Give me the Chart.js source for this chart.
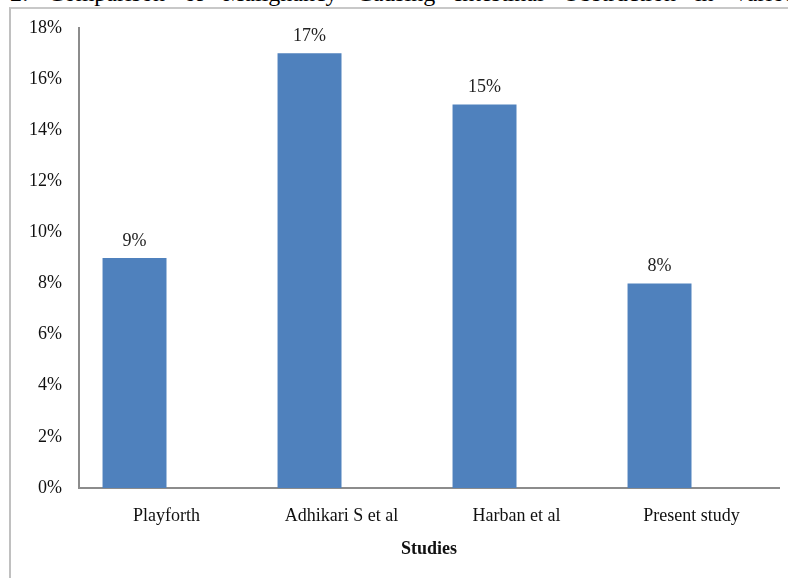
<!DOCTYPE html>
<html>
<head>
<meta charset="utf-8">
<script src="https://cdn.jsdelivr.net/npm/chart.js@4/dist/chart.umd.min.js"></script>
<style>
  html, body { margin: 0; padding: 0; background: #fff; }
  #wrap { position: relative; width: 788px; height: 578px; overflow: hidden; }
  #frame { position: absolute; left: 9px; top: 7px; width: 800px; height: 600px;
           border-left: 2px solid #c0c0c0; border-top: 2px solid #c8c8c8; }
  #cap { position: absolute; left: 10px; top: -19px; white-space: nowrap; word-spacing: 13px;
         font-family: "Liberation Serif", serif; font-size: 24px; line-height: 24px; color: #000; }
  canvas { position: absolute; left: 0; top: 0; }
</style>
</head>
<body>
<div id="wrap">
  <div id="cap">2: Comparison of Malignancy Causing Intestinal Obstruction in Various Studies</div>
  <div id="frame"></div>
  <canvas id="c" width="788" height="578"></canvas>
</div>
<script>
const categories = ["Playforth", "Adhikari S et al", "Harban et al", "Present study"];
const values = [9, 17, 15, 8];
const yTicks = [0, 2, 4, 6, 8, 10, 12, 14, 16, 18];
const xTitle = "Studies";

const serif = "'Liberation Serif', 'Times New Roman', serif";

const labelPlugin = {
  id: 'valueLabels',
  afterDatasetsDraw(chart) {
    const ctx = chart.ctx;
    const meta = chart.getDatasetMeta(0);
    ctx.save();
    ctx.font = "18px " + serif;
    ctx.fillStyle = "#222";
    ctx.textAlign = "center";
    ctx.textBaseline = "middle";
    meta.data.forEach((bar, i) => {
      ctx.fillText(values[i] + "%", bar.x, bar.y - 17);
    });
    ctx.restore();
  }
};

new Chart(document.getElementById('c'), {
  type: 'bar',
  data: {
    labels: categories,
    datasets: [
      { data: values, backgroundColor: '#4F81BD', borderWidth: 0 },
      { data: values.map(() => null), backgroundColor: 'rgba(0,0,0,0)' }
    ]
  },
  options: {
    responsive: false,
    animation: false,
    events: [],
    layout: { padding: { left: 0, right: 9, top: 27, bottom: 0 } },
    plugins: { legend: { display: false }, tooltip: { enabled: false } },
    datasets: { bar: { categoryPercentage: 0.731, barPercentage: 1.0 } },
    scales: {
      x: {
        offset: true,
        grid: { display: false, drawTicks: false },
        border: { display: true, color: '#8c8c8c', width: 2 },
        ticks: { color: '#111', font: { family: serif, size: 18 }, padding: 17, maxRotation: 0 },
        title: { display: true, text: xTitle, color: '#111', font: { family: serif, size: 18, weight: 'bold' }, padding: { top: 4, bottom: 18 } },
        afterFit(s) { s.height = 90; }
      },
      y: {
        min: 0, max: 18,
        afterBuildTicks(s) { s.ticks = yTicks.map(v => ({ value: v })); },
        grid: { display: false, drawTicks: false },
        border: { display: true, color: '#8c8c8c', width: 2 },
        ticks: { color: '#111', font: { family: serif, size: 18 }, padding: 17, callback: v => v + '%' },
        afterFit(s) { s.width = 79; }
      }
    }
  },
  plugins: [labelPlugin]
});
</script>
</body>
</html>
